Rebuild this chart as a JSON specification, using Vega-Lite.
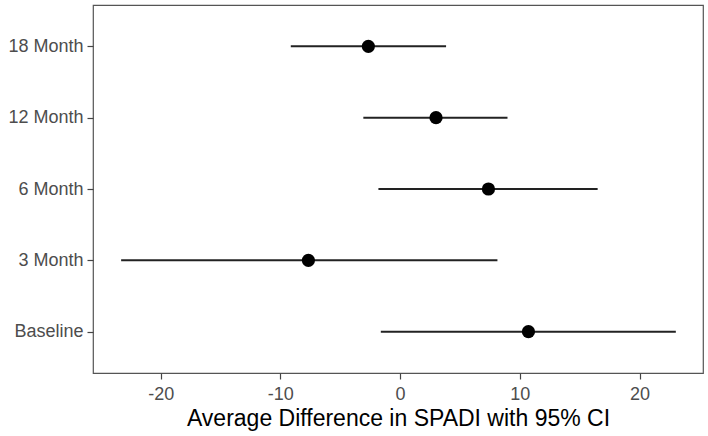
{
  "$schema": "https://vega.github.io/schema/vega-lite/v6.json",
  "width": 610,
  "height": 368,
  "autosize": {"type": "none"},
  "padding": {"left": 93, "top": 5, "right": 5, "bottom": 63},
  "background": "white",
  "config": {
    "font": "Liberation Sans",
    "view": {"stroke": "#555555", "strokeWidth": 1.2},
    "axis": {
      "grid": false,
      "domain": false,
      "tickColor": "#444444",
      "tickSize": 6,
      "tickWidth": 1.2,
      "labelColor": "#4d4d4d",
      "labelFontSize": 18,
      "labelPadding": 4
    }
  },
  "data": {
    "values": [
      {"time": "18 Month", "est": -2.65, "lo": -9.13, "hi": 3.84},
      {"time": "12 Month", "est": 3.0, "lo": -3.07, "hi": 8.97},
      {"time": "6 Month", "est": 7.38, "lo": -1.81, "hi": 16.5},
      {"time": "3 Month", "est": -7.66, "lo": -23.3, "hi": 8.13},
      {"time": "Baseline", "est": 10.72, "lo": -1.61, "hi": 23.03}
    ]
  },
  "encoding": {
    "y": {
      "field": "time",
      "type": "ordinal",
      "sort": ["18 Month", "12 Month", "6 Month", "3 Month", "Baseline"],
      "scale": {"type": "point", "padding": 0.58},
      "axis": {"title": null}
    }
  },
  "layer": [
    {
      "mark": {"type": "rule", "color": "#222222", "strokeWidth": 2},
      "encoding": {
        "x": {
          "field": "lo",
          "type": "quantitative",
          "scale": {"domain": [-25.65, 25.3], "nice": false, "zero": false},
          "axis": {
            "values": [-20, -10, 0, 10, 20],
            "labelExpr": "toString(datum.value)",
            "labelPadding": 6,
            "title": "Average Difference in SPADI with 95% CI",
            "titleFontSize": 23,
            "titleFontWeight": "normal",
            "titleColor": "#000000",
            "titlePadding": 4
          }
        },
        "x2": {"field": "hi"}
      }
    },
    {
      "mark": {"type": "point", "filled": true, "color": "#000000", "size": 175, "opacity": 1},
      "encoding": {
        "x": {"field": "est", "type": "quantitative"}
      }
    }
  ]
}
